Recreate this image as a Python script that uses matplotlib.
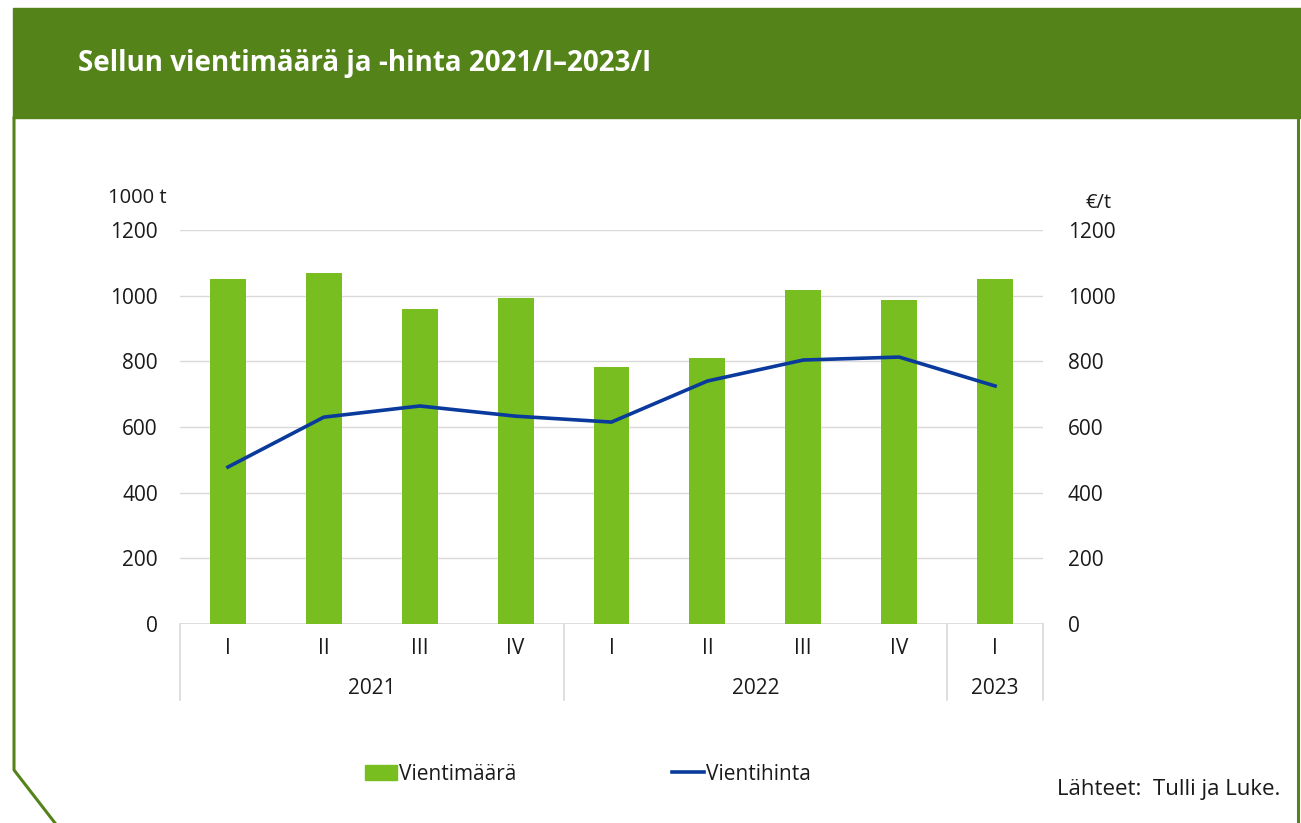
import numpy as np
import matplotlib
matplotlib.use("Agg")
import matplotlib.pyplot as plt
from matplotlib.lines import Line2D
from matplotlib.patches import Rectangle, Patch

# --- Data ---
quarters = ["I", "II", "III", "IV", "I", "II", "III", "IV", "I"]
years = ["2021", "2022", "2023"]
year_spans = [(0, 3), (4, 7), (8, 8)]
volume = [1051, 1069, 959, 993, 783, 810, 1017, 987, 1051]   # 1000 t
price = [478, 630, 664, 633, 615, 740, 804, 813, 725]        # €/t
yticks = [0, 200, 400, 600, 800, 1000, 1200]

# --- Style ---
W, H = 1301, 823
bar_color = "#78BE20"
line_color = "#0A3A9C"
header_color = "#548419"
grid_color = "#D9D9D9"
txt = "#1a1a1a"
plt.rcParams["font.family"] = ["Open Sans", "DejaVu Sans"]

fig = plt.figure(figsize=(W / 100, H / 100), dpi=100)

def px(x, y):
    # pixel coords (top-left origin) -> figure fraction
    return x / W, 1 - y / H

# header band and frame
fig.patches.append(Rectangle(px(13, 118), (W - 13) / W, 110 / H,
                             transform=fig.transFigure, color=header_color, zorder=0))
fig.text(*px(78, 64), "Sellun vientimäärä ja -hinta 2021/I\u20132023/I", color="white",
         fontsize=20, fontweight="bold", va="center", ha="left")
fx, fy = zip(px(14, 118), px(14, 770), px(55, 823))
fig.lines.append(Line2D(fx, fy, transform=fig.transFigure, color=header_color, lw=2.2))
fx, fy = zip(px(1298, 118), px(1298, 823))
fig.lines.append(Line2D(fx, fy, transform=fig.transFigure, color=header_color, lw=2.2))

# plot area
left, right, top, bottom = 180, 1043, 230, 624
ax = fig.add_axes([left / W, 1 - bottom / H, (right - left) / W, (bottom - top) / H])
ax2 = ax.twinx()

x = np.arange(len(quarters))
ax.bar(x, volume, width=0.375, color=bar_color, zorder=2)
ax2.plot(x, price, color=line_color, lw=2.6, zorder=3)

for a in (ax, ax2):
    a.set_ylim(0, 1200)
    a.set_yticks(yticks)
    a.set_xlim(-0.5, len(quarters) - 0.5)
    for s in a.spines.values():
        s.set_visible(False)
    a.tick_params(length=0, labelsize=15, colors=txt)
ax.tick_params(axis="y", pad=16)
ax2.tick_params(axis="y", pad=18)
ax.set_xticks([])
ax.yaxis.grid(True, color=grid_color, lw=1)
ax.set_axisbelow(True)
ax.axhline(0, color=grid_color, lw=1.2, zorder=1)

# multi-level category axis
depth = (700 - bottom) / (bottom - top)
for b in [-0.5, 3.5, 7.5, 8.5]:
    ax.plot([b, b], [0, -depth], transform=ax.get_xaxis_transform(),
            color=grid_color, lw=1.2, clip_on=False)
for i, q in enumerate(quarters):
    ax.text(i, -(649 - bottom) / (bottom - top), q, transform=ax.get_xaxis_transform(),
            ha="center", va="center", fontsize=15, color=txt)
for yr, (a0, a1) in zip(years, year_spans):
    ax.text((a0 + a1) / 2, -(689 - bottom) / (bottom - top), yr,
            transform=ax.get_xaxis_transform(), ha="center", va="center",
            fontsize=15, color=txt)

# unit labels
fig.text(*px(108, 198), "1000 t", fontsize=14.5, color=txt, va="center", ha="left")
fig.text(*px(1112, 203), "\u20ac/t", fontsize=14.5, color=txt, va="center", ha="right")

# legend
handles = [Patch(color=bar_color, label="Vientim\u00e4\u00e4r\u00e4"),
           Line2D([], [], color=line_color, lw=2.6, label="Vientihinta")]
fig.legend(handles=handles, loc="center", bbox_to_anchor=px(588, 774), ncol=2,
           frameon=False, fontsize=15, handlelength=1.5, handletextpad=0.1,
           columnspacing=7.5, labelcolor=txt)

fig.text(*px(1280, 790), "L\u00e4hteet:  Tulli ja Luke.", fontsize=16, color=txt,
         ha="right", va="center")

fig.savefig("out.png", dpi=100)
